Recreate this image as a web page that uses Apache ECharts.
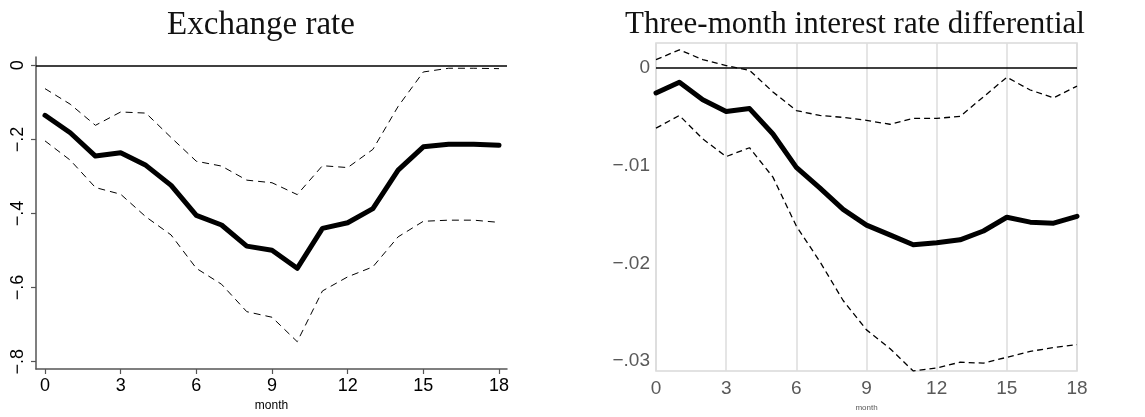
<!DOCTYPE html>
<html>
<head>
<meta charset="utf-8">
<script src="https://cdn.jsdelivr.net/npm/echarts@6/dist/echarts.min.js"></script>
<style>
  html, body { margin: 0; padding: 0; background: #fff; }
  #chart { width: 1145px; height: 417px; }
</style>
</head>
<body>
<div id="chart"></div>
<script>
// months 0..18
var months = [0, 1, 2, 3, 4, 5, 6, 7, 8, 9, 10, 11, 12, 13, 14, 15, 16, 17, 18]
var monthTicks = [0, 3, 6, 9, 12, 15, 18]

// exchange rate response + bands
var fxMid = [-0.135, -0.182, -0.245, -0.236, -0.27, -0.324, -0.405, -0.431, -0.488, -0.499, -0.548, -0.44, -0.425, -0.387, -0.283, -0.22, -0.213, -0.213, -0.216]
var fxUp = [-0.063, -0.105, -0.162, -0.126, -0.129, -0.195, -0.259, -0.272, -0.31, -0.317, -0.349, -0.271, -0.276, -0.227, -0.111, -0.018, -0.008, -0.008, -0.009]
var fxLo = [-0.204, -0.256, -0.33, -0.348, -0.409, -0.458, -0.548, -0.591, -0.665, -0.68, -0.746, -0.609, -0.571, -0.544, -0.463, -0.421, -0.418, -0.418, -0.424]
var fxTicks = [0, -0.2, -0.4, -0.6, -0.8]

// three-month interest rate differential response + bands
var irMid = [-0.0026, -0.0015, -0.0033, -0.0045, -0.0042, -0.0068, -0.0102, -0.0123, -0.0145, -0.0161, -0.0171, -0.0181, -0.0179, -0.0176, -0.0167, -0.0153, -0.0158, -0.0159, -0.0152]
var irUp = [0.0008, 0.0018, 0.0008, 0.0002, -0.0003, -0.0025, -0.0044, -0.0049, -0.0051, -0.0054, -0.0058, -0.0052, -0.0052, -0.005, -0.003, -0.001, -0.0023, -0.0031, -0.0019]
var irLo = [-0.0062, -0.0049, -0.0073, -0.0091, -0.0082, -0.0112, -0.0162, -0.0198, -0.0238, -0.0268, -0.0287, -0.031, -0.0307, -0.0301, -0.0302, -0.0296, -0.029, -0.0286, -0.0283]
var irTicks = [0, -0.01, -0.02, -0.03]

function pairs (ys) {
  return months.map(function (m, i) { return [m, ys[i]] })
}
function stataNum (v) {
  if (v === 0) return '0'
  return '\u2212' + String(Math.abs(v)).replace(/^0/, '')
}
function zeroLine () {
  return {
    silent: true,
    symbol: 'none',
    label: { show: false },
    lineStyle: { color: '#000', type: 'solid', width: 1.5 },
    data: [{ yAxis: 0 }]
  }
}

var chart = echarts.init(document.getElementById('chart'))
var option = {
  animation: false,
  title: [
    {
      text: 'Exchange rate',
      left: 256,
      top: 4,
      textAlign: 'center',
      textStyle: { fontFamily: 'Liberation Serif', fontSize: 33, fontWeight: 'normal', color: '#111' }
    },
    {
      text: 'Three-month interest rate differential',
      left: 850,
      top: 4,
      textAlign: 'center',
      textStyle: { fontFamily: 'Liberation Serif', fontSize: 31, fontWeight: 'normal', color: '#111' }
    }
  ],
  grid: [
    { left: 36, top: 57, width: 471, height: 312 },
    { left: 656, top: 43, width: 421, height: 335, show: true, borderColor: '#d9d9d9', borderWidth: 1.5, backgroundColor: '#fff' }
  ],
  xAxis: [
    {
      gridIndex: 0,
      type: 'value',
      min: -0.357,
      max: 18.317,
      name: 'month',
      nameLocation: 'middle',
      nameGap: 27,
      nameTextStyle: { fontFamily: 'Liberation Sans', fontSize: 12, color: '#000' },
      axisLine: { show: true, onZero: false, lineStyle: { color: '#555', width: 1.5 } },
      axisTick: { show: true, length: 5, customValues: monthTicks, lineStyle: { color: '#555', width: 1.2 } },
      axisLabel: { customValues: monthTicks, margin: 8, fontFamily: 'Liberation Sans', fontSize: 18, color: '#000' },
      splitLine: { show: false }
    },
    {
      gridIndex: 1,
      type: 'value',
      min: 0,
      max: 18,
      interval: 3,
      name: 'month',
      nameLocation: 'middle',
      nameGap: 33,
      nameTextStyle: { fontFamily: 'Liberation Sans', fontSize: 8, color: '#595959' },
      axisLine: { show: false, onZero: false },
      axisTick: { show: false },
      axisLabel: { margin: 8, fontFamily: 'Liberation Sans', fontSize: 19, color: '#595959' },
      splitLine: { show: true, lineStyle: { color: '#dcdcdc', width: 1.5 } }
    }
  ],
  yAxis: [
    {
      gridIndex: 0,
      type: 'value',
      min: -0.8197,
      max: 0.0224,
      axisLine: { show: true, onZero: false, lineStyle: { color: '#555', width: 1.5 } },
      axisTick: { show: true, length: 5, customValues: fxTicks, lineStyle: { color: '#555', width: 1.2 } },
      axisLabel: { customValues: fxTicks, rotate: 90, margin: 9, fontFamily: 'Liberation Sans', fontSize: 18, color: '#000', formatter: stataNum },
      splitLine: { show: false }
    },
    {
      gridIndex: 1,
      type: 'value',
      min: -0.031,
      max: 0.0025,
      axisLine: { show: false, onZero: false },
      axisTick: { show: false },
      axisLabel: { customValues: irTicks, margin: 6, fontFamily: 'Liberation Sans', fontSize: 19, color: '#595959', formatter: stataNum },
      splitLine: { show: false }
    }
  ],
  series: [
    {
      type: 'line', xAxisIndex: 0, yAxisIndex: 0, data: pairs(fxUp), showSymbol: false,
      lineStyle: { color: '#000', width: 1, type: [7, 5] }
    },
    {
      type: 'line', xAxisIndex: 0, yAxisIndex: 0, data: pairs(fxLo), showSymbol: false,
      lineStyle: { color: '#000', width: 1, type: [7, 5] }
    },
    {
      type: 'line', xAxisIndex: 0, yAxisIndex: 0, data: pairs(fxMid), showSymbol: false,
      lineStyle: { color: '#000', width: 5, cap: 'round', join: 'round' },
      markLine: zeroLine()
    },
    {
      type: 'line', xAxisIndex: 1, yAxisIndex: 1, data: pairs(irUp), showSymbol: false,
      lineStyle: { color: '#000', width: 1.3, type: [6, 4] }
    },
    {
      type: 'line', xAxisIndex: 1, yAxisIndex: 1, data: pairs(irLo), showSymbol: false,
      lineStyle: { color: '#000', width: 1.3, type: [6, 4] }
    },
    {
      type: 'line', xAxisIndex: 1, yAxisIndex: 1, data: pairs(irMid), showSymbol: false,
      lineStyle: { color: '#000', width: 5, cap: 'round', join: 'round' },
      markLine: zeroLine()
    }
  ]
}
chart.setOption(option)
</script>
</body>
</html>
